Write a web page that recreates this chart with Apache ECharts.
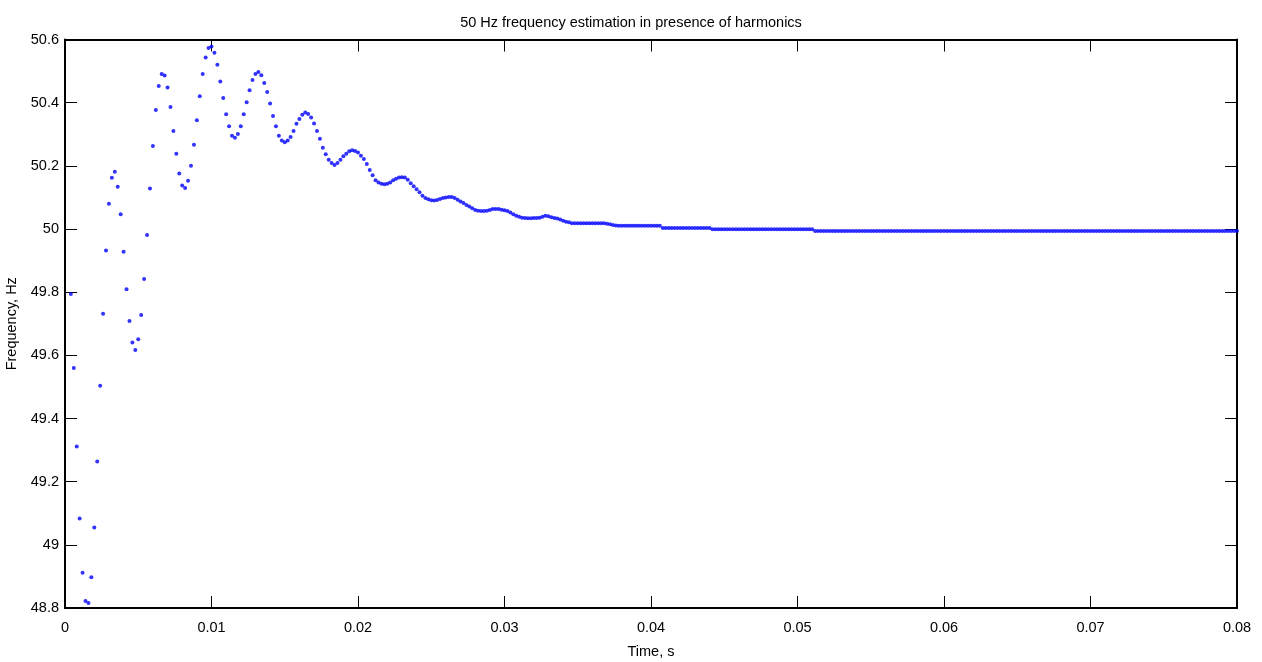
<!DOCTYPE html>
<html>
<head>
<meta charset="utf-8">
<script src="https://cdn.jsdelivr.net/npm/echarts@6/dist/echarts.min.js"></script>
<style>
html,body{margin:0;padding:0;background:#fff;}
#chart{width:1262px;height:662px;}
</style>
</head>
<body>
<div id="chart"></div>
<script>
// Sampling of the estimator output (s)
var sampleStart = 0.0004;
var sampleStep = 0.0002;

// Axis ticks
var xTicks = ['0', '0.01', '0.02', '0.03', '0.04', '0.05', '0.06', '0.07', '0.08'];
var yTicks = ['48.8', '49', '49.2', '49.4', '49.6', '49.8', '50', '50.2', '50.4', '50.6'];

// Estimated frequency (Hz)
var freqTransient = [
  49.794, 49.560, 49.311, 49.083, 48.912, 48.822, 48.816, 48.897, 49.055, 49.264,
  49.504, 49.732, 49.932, 50.080, 50.162, 50.181, 50.134, 50.047, 49.928, 49.809,
  49.709, 49.641, 49.617, 49.651, 49.728, 49.842, 49.981, 50.128, 50.263, 50.377,
  50.453, 50.491, 50.486, 50.448, 50.386, 50.310, 50.238, 50.176, 50.138, 50.130,
  50.153, 50.200, 50.267, 50.344, 50.420, 50.491, 50.543, 50.573, 50.578, 50.558,
  50.520, 50.467, 50.415, 50.363, 50.325, 50.295, 50.289, 50.301, 50.325, 50.363,
  50.401, 50.439, 50.472, 50.491, 50.497, 50.487, 50.462, 50.434, 50.397, 50.358,
  50.325, 50.295, 50.280, 50.275, 50.280, 50.291, 50.310, 50.333, 50.348, 50.362,
  50.369, 50.364, 50.353, 50.334, 50.310, 50.286, 50.257, 50.237, 50.219, 50.209,
  50.203, 50.209, 50.219, 50.230, 50.238, 50.246, 50.249, 50.247, 50.242, 50.232,
  50.222, 50.206, 50.187, 50.170, 50.154, 50.147, 50.143, 50.142, 50.143, 50.147,
  50.154, 50.159, 50.163
];
var freqSettling = [
  50.164, 50.163, 50.156, 50.145, 50.135, 50.126, 50.116, 50.105, 50.098, 50.094,
  50.091, 50.090, 50.092, 50.095, 50.098, 50.100, 50.101, 50.101, 50.098, 50.093,
  50.087, 50.082, 50.076, 50.071, 50.066, 50.060, 50.058, 50.057, 50.057, 50.058,
  50.060, 50.063, 50.063, 50.063, 50.061, 50.059, 50.057, 50.052, 50.047, 50.042,
  50.039, 50.036, 50.035, 50.034, 50.034, 50.035, 50.035, 50.036, 50.039, 50.042,
  50.040, 50.037, 50.035, 50.033, 50.030, 50.026, 50.023, 50.021, 50.018, 50.018,
  50.018, 50.018, 50.018, 50.018, 50.018, 50.018, 50.018, 50.018, 50.018, 50.018,
  50.017, 50.015, 50.013, 50.011, 50.010, 50.010, 50.010, 50.010, 50.010, 50.010,
  50.010, 50.010, 50.010, 50.010, 50.010, 50.010, 50.010, 50.010, 50.010, 50.003,
  50.003, 50.003, 50.003, 50.003, 50.003, 50.003, 50.003, 50.003, 50.003, 50.003,
  50.003, 50.003, 50.003, 50.003, 50.003, 50.003, 49.999, 49.999, 49.999, 49.999,
  49.999, 49.999, 49.999, 49.999, 49.999, 49.999, 49.999, 49.999, 49.999, 49.999,
  49.999, 49.999, 49.999, 49.999, 49.999, 49.999, 49.999, 49.999, 49.999, 49.999,
  49.999, 49.999, 49.999, 49.999, 49.999, 49.999, 49.999, 49.999, 49.999, 49.999,
  49.999
];
var freqSteady = [
  49.994, 49.994, 49.994, 49.994, 49.994, 49.994, 49.994, 49.994, 49.994, 49.994,
  49.994, 49.994, 49.994, 49.994, 49.994, 49.994, 49.994, 49.994, 49.994, 49.994,
  49.994, 49.994, 49.994, 49.994, 49.994, 49.994, 49.994, 49.994, 49.994, 49.994,
  49.994, 49.994, 49.994, 49.994, 49.994, 49.994, 49.994, 49.994, 49.994, 49.994,
  49.994, 49.994, 49.994, 49.994, 49.994, 49.994, 49.994, 49.994, 49.994, 49.994,
  49.994, 49.994, 49.994, 49.994, 49.994, 49.994, 49.994, 49.994, 49.994, 49.994,
  49.994, 49.994, 49.994, 49.994, 49.994, 49.994, 49.994, 49.994, 49.994, 49.994,
  49.994, 49.994, 49.994, 49.994, 49.994, 49.994, 49.994, 49.994, 49.994, 49.994,
  49.994, 49.994, 49.994, 49.994, 49.994, 49.994, 49.994, 49.994, 49.994, 49.994,
  49.994, 49.994, 49.994, 49.994, 49.994, 49.994, 49.994, 49.994, 49.994, 49.994,
  49.994, 49.994, 49.994, 49.994, 49.994, 49.994, 49.994, 49.994, 49.994, 49.994,
  49.994, 49.994, 49.994, 49.994, 49.994, 49.994, 49.994, 49.994, 49.994, 49.994,
  49.994, 49.994, 49.994, 49.994, 49.994, 49.994, 49.994, 49.994, 49.994, 49.994,
  49.994, 49.994, 49.994, 49.994, 49.994, 49.994, 49.994, 49.994, 49.994, 49.994,
  49.994, 49.994, 49.994, 49.994, 49.994
];

var freqAll = freqTransient.concat(freqSettling, freqSteady);
var points = freqAll.map(function (v, i) {
  return [+(sampleStart + i * sampleStep).toFixed(4), v];
});

var FONT = "'Liberation Sans', Arial, Helvetica, sans-serif";
var FS = 14.5;

var chart = echarts.init(document.getElementById('chart'), null, {renderer: 'canvas'});

function baseAxis(extra) {
  var a = {
    type: 'value',
    axisLine: {show: true, onZero: false, lineStyle: {color: '#000', width: 2}},
    axisTick: {show: true, inside: true, length: 12, lineStyle: {color: '#000', width: 1}},
    splitLine: {show: false},
    axisLabel: {color: '#000', fontFamily: FONT, fontSize: FS}
  };
  for (var k in extra) a[k] = extra[k];
  return a;
}

var xMin = +xTicks[0], xMax = +xTicks[xTicks.length - 1];
var yMin = +yTicks[0], yMax = +yTicks[yTicks.length - 1];

chart.setOption({
  animation: false,
  backgroundColor: '#fff',
  textStyle: {fontFamily: FONT},
  title: {
    text: '50 Hz frequency estimation in presence of harmonics',
    left: 'center',
    top: 10,
    textStyle: {color: '#000', fontWeight: 'normal', fontFamily: FONT, fontSize: FS}
  },
  grid: {left: 65, right: 25, top: 39.5, bottom: 54, containLabel: false, outerBoundsMode: 'none'},
  xAxis: [
    baseAxis({
      position: 'bottom', min: xMin, max: xMax, interval: 0.01,
      name: 'Time, s', nameLocation: 'middle', nameGap: 36,
      nameTextStyle: {color: '#000', fontFamily: FONT, fontSize: FS},
      axisLabel: {color: '#000', fontFamily: FONT, fontSize: FS, margin: 12,
        formatter: function (v) { var i = Math.round(v / 0.01); return xTicks[i] !== undefined ? xTicks[i] : ''; }}
    }),
    baseAxis({
      position: 'top', min: xMin, max: xMax, interval: 0.01,
      axisLabel: {show: false}
    })
  ],
  yAxis: [
    baseAxis({
      position: 'left', min: yMin, max: yMax, interval: 0.2,
      name: 'Frequency, Hz', nameLocation: 'middle', nameGap: 42, nameRotate: 90,
      nameTextStyle: {color: '#000', fontFamily: FONT, fontSize: FS},
      axisLabel: {color: '#000', fontFamily: FONT, fontSize: FS, margin: 6,
        formatter: function (v) { var i = Math.round((v - yMin) / 0.2); return yTicks[i] !== undefined ? yTicks[i] : ''; }}
    }),
    baseAxis({
      position: 'right', min: yMin, max: yMax, interval: 0.2,
      axisLabel: {show: false}
    })
  ],
  series: [{
    type: 'scatter',
    xAxisIndex: 0,
    yAxisIndex: 0,
    data: points,
    symbol: 'circle',
    symbolSize: 4,
    itemStyle: {color: '#0000ff'},
    silent: true
  }]
});
</script>
</body>
</html>
